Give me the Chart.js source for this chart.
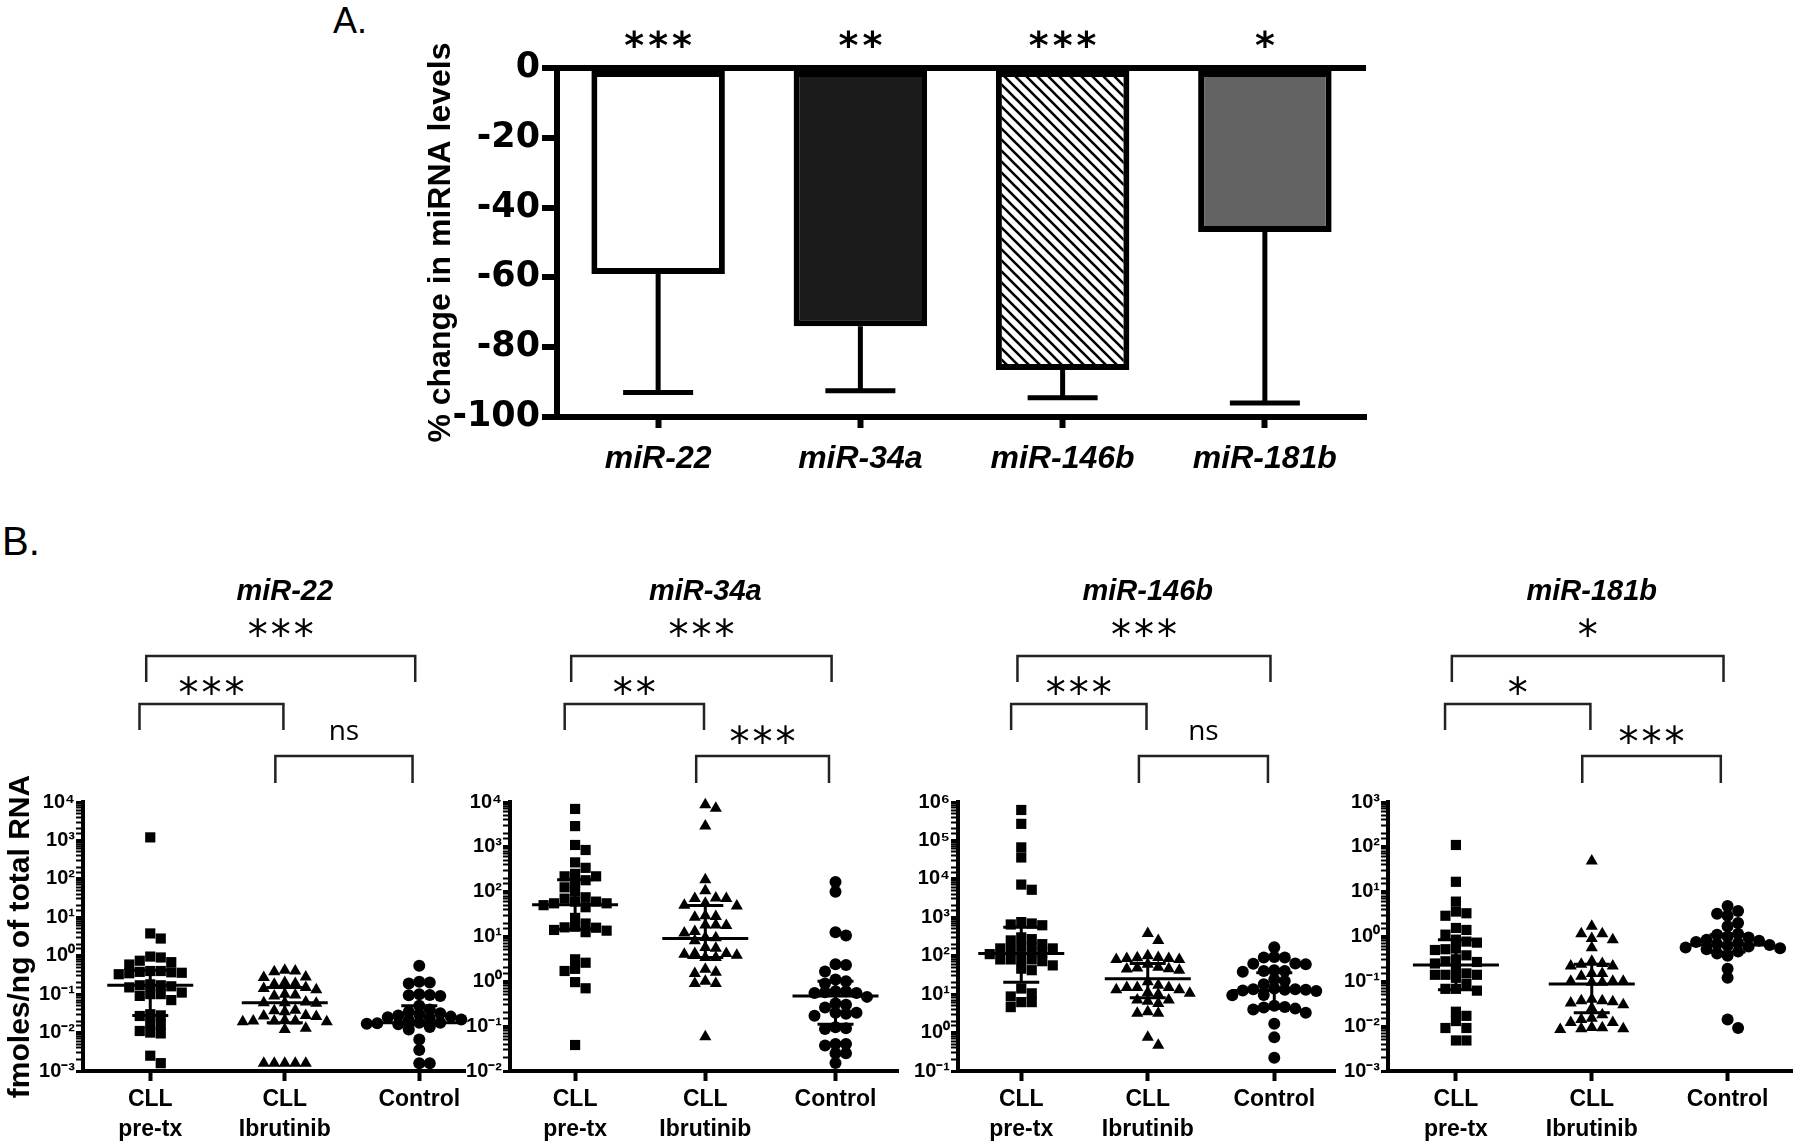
<!DOCTYPE html>
<html><head><meta charset="utf-8">
<script src="https://cdn.jsdelivr.net/npm/chart.js@4.4.1/dist/chart.umd.min.js"></script>
<style>
html,body{margin:0;padding:0;background:#fff;width:1800px;height:1144px;overflow:hidden;}
body{position:relative;font-family:"Liberation Sans",Arial,sans-serif;}
canvas{position:absolute;}
.lbl{position:absolute;font-family:"Liberation Sans",Arial,sans-serif;color:#000;line-height:1;}
</style></head><body>
<div class="lbl" style="left:333px;top:3px;font-size:36px">A.</div>
<div class="lbl" style="left:2px;top:521px;font-size:40px">B.</div>
<canvas id="cA" width="1000" height="480" style="left:400px;top:0px"></canvas>
<canvas id="c0" width="480" height="584" style="left:0px;top:560px"></canvas>
<canvas id="c1" width="480" height="584" style="left:430px;top:560px"></canvas>
<canvas id="c2" width="470" height="584" style="left:878px;top:560px"></canvas>
<canvas id="c3" width="492" height="584" style="left:1308px;top:560px"></canvas>
<script>
// ---------------- Panel A data ----------------
const barCategories = ['miR-22', 'miR-34a', 'miR-146b', 'miR-181b'];
const barChange = [-59, -74, -86.5, -47];
const barErrorLow = [-93, -92.5, -94.5, -96];
const barStars = ['***', '**', '***', '*'];
const barTicks = [0, -20, -40, -60, -80, -100];

// ---------------- Panel B data ----------------
const groupLabels = [['CLL', 'pre-tx'], ['CLL', 'Ibrutinib'], 'Control'];
const panelTitles = ['miR-22', 'miR-34a', 'miR-146b', 'miR-181b'];
const yAxisMin = [1e-3, 1e-2, 1e-1, 1e-3];
const yAxisMax = [1e4, 1e4, 1e6, 1e3];

const mir22PreTx = [1200, 3.8, 2.8, 0.9, 0.74, 0.59, 0.68, 0.95, 0.4, 0.37, 0.35, 0.38, 0.33, 0.36, 0.4, 0.17, 0.16, 0.18, 0.15, 0.17, 0.1, 0.09, 0.1, 0.11, 0.07, 0.028, 0.027, 0.03, 0.016, 0.017, 0.01, 0.0095, 0.011, 0.0025, 0.0016];
const mir22Ibrutinib = [0.4, 0.38, 0.42, 0.27, 0.28, 0.19, 0.2, 0.18, 0.14, 0.13, 0.15, 0.095, 0.1, 0.09, 0.06, 0.062, 0.058, 0.06, 0.037, 0.035, 0.038, 0.027, 0.026, 0.028, 0.02, 0.019, 0.021, 0.02, 0.019, 0.02, 0.012, 0.013, 0.0016, 0.0016, 0.0016, 0.0016, 0.0016];
const mir22Control = [0.55, 0.2, 0.19, 0.21, 0.093, 0.09, 0.095, 0.1, 0.04, 0.05, 0.035, 0.032, 0.03, 0.028, 0.026, 0.025, 0.024, 0.022, 0.021, 0.018, 0.0175, 0.017, 0.0175, 0.018, 0.0165, 0.014, 0.012, 0.0066, 0.0035, 0.0016, 0.0016];
const mir22Median = [0.17, 0.06, 0.018];
const mir22Q1 = [0.028, 0.018, 0.016];
const mir22Q3 = [0.42, 0.15, 0.05];
const mir22Sig = ['***', '***', 'ns'];

const mir34aPreTx = [7000, 2900, 1100, 850, 450, 340, 220, 220, 180, 250, 160, 125, 100, 75, 60, 55, 70, 60, 55, 50, 45, 26, 19.5, 16.5, 15.7, 13.5, 12.5, 14, 16, 2.6, 3.1, 1.7, 1.9, 0.96, 0.7, 0.038];
const mir34aIbrutinib = [7300, 8700, 2900, 185, 105, 70, 55, 70, 72, 50, 48, 29, 27, 28, 17.5, 18, 18, 12, 9.4, 13, 9.5, 8, 5.7, 5.5, 4, 3.8, 4.2, 3.4, 3.4, 4.2, 1.85, 1.5, 1.6, 0.9, 0.9, 1.0, 0.058];
const mir34aControl = [165, 100, 10.5, 12.5, 2.3, 1.65, 2.4, 1.1, 1.0, 0.9, 0.6, 0.57, 0.55, 0.6, 0.55, 0.45, 0.3, 0.32, 0.17, 0.19, 0.2, 0.2, 0.26, 0.09, 0.086, 0.095, 0.04, 0.037, 0.04, 0.025, 0.025, 0.015];
const mir34aMedian = [51, 9, 0.47];
const mir34aQ1 = [14.5, 3.4, 0.11];
const mir34aQ3 = [185, 49, 1.0];
const mir34aSig = ['***', '**', '***'];

const mir146bPreTx = [620000, 270000, 66000, 36000, 7100, 5200, 690, 620, 750, 650, 300, 270, 250, 200, 155, 140, 160, 170, 155, 120, 110, 80, 80, 72, 80, 80, 56, 42, 46, 14, 10.5, 8.7, 6.2, 6.2, 4.6];
const mir146bIbrutinib = [380, 250, 100, 80, 80, 85, 90, 85, 88, 60, 45, 42, 50, 46, 48, 21, 15, 13, 17, 15, 13, 15, 10.5, 11, 10, 6.5, 7, 7, 5.7, 3.2, 3.2, 3.5, 0.75, 0.47];
const mir146bControl = [165, 92, 90, 63, 60, 62, 90, 40, 38, 40, 42, 24, 22, 18, 13.5, 13, 13.5, 14, 13, 12, 12.5, 9.3, 9.5, 4.6, 3.3, 4, 5, 4.2, 4.5, 1.7, 0.75, 0.22];
const mir146bMedian = [115, 25, 12.5];
const mir146bQ1 = [20.5, 8, 4.3];
const mir146bQ3 = [550, 63, 36];
const mir146bSig = ['***', '***', 'ns'];

const mir181bPreTx = [110, 16.6, 6, 3.6, 2.9, 3.3, 1.55, 1.4, 1.1, 0.77, 0.85, 0.73, 0.54, 0.5, 0.52, 0.38, 0.31, 0.25, 0.28, 0.27, 0.19, 0.14, 0.12, 0.15, 0.14, 0.14, 0.087, 0.068, 0.062, 0.068, 0.017, 0.021, 0.0091, 0.013, 0.0091, 0.0048, 0.0048];
const mir181bIbrutinib = [48, 1.7, 1.15, 1.15, 0.9, 0.85, 0.56, 0.24, 0.22, 0.28, 0.25, 0.22, 0.15, 0.13, 0.15, 0.1, 0.1, 0.1, 0.095, 0.095, 0.037, 0.033, 0.04, 0.03, 0.037, 0.035, 0.025, 0.018, 0.015, 0.012, 0.0093, 0.0088, 0.0084, 0.0088, 0.0092, 0.012, 0.014];
const mir181bControl = [4.8, 3.2, 2.9, 3.7, 1.7, 2.0, 1.15, 1.0, 1.1, 0.95, 0.85, 0.8, 0.75, 0.72, 0.68, 0.65, 0.62, 0.6, 0.57, 0.55, 0.52, 0.46, 0.42, 0.37, 0.19, 0.12, 0.014, 0.0091];
const mir181bMedian = [0.23, 0.087, 0.65];
const mir181bQ1 = [0.065, 0.02, 0.45];
const mir181bQ3 = [0.85, 0.24, 1.1];
const mir181bSig = ['*', '*', '***'];

// ---------------- rendering ----------------
const FONT = "'Liberation Sans', Arial, Helvetica, sans-serif";
const WIDE = "'DejaVu Sans', Verdana, sans-serif";
Chart.defaults.font.family = FONT;
Chart.defaults.color = '#000';

function hatchPattern() {
  const s = 11, c = document.createElement('canvas');
  c.width = s; c.height = s;
  const x = c.getContext('2d');
  x.fillStyle = '#fff'; x.fillRect(0, 0, s, s);
  x.strokeStyle = '#000'; x.lineWidth = 2.6;
  x.beginPath();
  x.moveTo(-2, -2); x.lineTo(s + 2, s + 2);
  x.moveTo(-2, s - 2); x.lineTo(2, s + 2);
  x.moveTo(s - 2, -2); x.lineTo(s + 2, 2);
  x.stroke();
  return x.createPattern(c, 'repeat');
}

function drawSig(ctx, text, cx, cy, bold) {
  ctx.save();
  ctx.fillStyle = '#000';
  ctx.textAlign = 'center';
  ctx.textBaseline = 'alphabetic';
  if (text === 'ns') {
    ctx.font = `normal 28px 'Open Sans', ${FONT}`;
    ctx.fillText(text, cx, cy + 7);
  } else {
    const size = bold ? 38 : 40;
    const sp = bold ? 4 : 3;
    ctx.font = `${bold ? 'bold' : 'normal'} ${size}px ${WIDE}`;
    ctx.letterSpacing = sp + 'px';
    ctx.fillText(text, cx + sp / 2, cy + 0.58 * size);
  }
  ctx.restore();
}

// Panel A
const panelAPlugin = {
  id: 'panelA',
  afterDatasetsDraw(chart) {
    const ctx = chart.ctx, ys = chart.scales.y;
    const meta = chart.getDatasetMeta(0);
    ctx.save();
    ctx.strokeStyle = '#000';
    ctx.lineWidth = 5;
    meta.data.forEach((bar, i) => {
      const yEnd = bar.y, yErr = ys.getPixelForValue(barErrorLow[i]);
      ctx.beginPath();
      ctx.moveTo(bar.x, yEnd); ctx.lineTo(bar.x, yErr);
      ctx.moveTo(bar.x - 35, yErr); ctx.lineTo(bar.x + 35, yErr);
      ctx.stroke();
      drawSig(ctx, barStars[i], bar.x, 36, true);
    });
    ctx.restore();
  }
};

new Chart(document.getElementById('cA'), {
  type: 'bar',
  data: {
    labels: barCategories,
    datasets: [{
      data: barChange,
      backgroundColor: ['#ffffff', '#1b1b1b', hatchPattern(), '#636363'],
      borderColor: '#000', borderWidth: 6, borderSkipped: false,
      barPercentage: 0.66, categoryPercentage: 1
    }]
  },
  options: {
    responsive: false, animation: false, devicePixelRatio: 1, events: [],
    layout: { padding: { top: 68, right: 34, left: 0, bottom: 0 } },
    plugins: { legend: { display: false }, tooltip: { enabled: false } },
    scales: {
      x: {
        offset: true,
        afterFit: s => { s.height = 63; },
        grid: { display: true, offset: false, drawOnChartArea: false, tickLength: 11, tickWidth: 6, tickColor: '#000' },
        border: { display: true, color: '#000', width: 6 },
        ticks: { color: '#000', padding: 12, font: { size: 32, weight: 'bold', style: 'italic' } }
      },
      y: {
        min: -100, max: 0,
        afterFit: s => { s.width = 157; },
        afterBuildTicks: s => { s.ticks = barTicks.map(v => ({ value: v })); },
        grid: {
          display: true, drawOnChartArea: true,
          color: c => (c.tick && c.tick.value === 0) ? '#000' : 'rgba(0,0,0,0)',
          lineWidth: 6, tickLength: 15, tickWidth: 6, tickColor: '#000'
        },
        border: { display: true, color: '#000', width: 6 },
        ticks: { color: '#000', padding: 2, font: { family: WIDE, size: 35, weight: 'bold' } },
        title: { display: true, text: '% change in miRNA levels', color: '#000', font: { size: 32, weight: 'bold' }, padding: { top: 22, bottom: 0 } }
      }
    }
  },
  plugins: [panelAPlugin]
});

// Panel B
const SUP = { '-': '⁻', '0': '⁰', '1': '¹', '2': '²', '3': '³', '4': '⁴', '5': '⁵', '6': '⁶', '7': '⁷', '8': '⁸', '9': '⁹' };
function isPow10(v) { const e = Math.log10(v); return Math.abs(e - Math.round(e)) < 1e-6; }
function powLabel(v) {
  if (!isPow10(v)) return '';
  const r = Math.round(Math.log10(v));
  return '10' + String(r).split('').map(ch => SUP[ch]).join('');
}

const panels = [
  { id: 'c0', title: panelTitles[0], groups: [mir22PreTx, mir22Ibrutinib, mir22Control], med: mir22Median, q1: mir22Q1, q3: mir22Q3, sig: mir22Sig, min: yAxisMin[0], max: yAxisMax[0] },
  { id: 'c1', title: panelTitles[1], groups: [mir34aPreTx, mir34aIbrutinib, mir34aControl], med: mir34aMedian, q1: mir34aQ1, q3: mir34aQ3, sig: mir34aSig, min: yAxisMin[1], max: yAxisMax[1] },
  { id: 'c2', title: panelTitles[2], groups: [mir146bPreTx, mir146bIbrutinib, mir146bControl], med: mir146bMedian, q1: mir146bQ1, q3: mir146bQ3, sig: mir146bSig, min: yAxisMin[2], max: yAxisMax[2] },
  { id: 'c3', title: panelTitles[3], groups: [mir181bPreTx, mir181bIbrutinib, mir181bControl], med: mir181bMedian, q1: mir181bQ1, q3: mir181bQ3, sig: mir181bSig, min: yAxisMin[3], max: yAxisMax[3] }
];
const boxes = [
  { axisW: 83, padR: 15, xMax: 2.34, yTitle: true },
  { axisW: 80, padR: 12, xMax: 2.48 },
  { axisW: 80, padR: 13, xMax: 2.48 },
  { axisW: 80, padR: 5, xMax: 2.48 }
];
// bracket layout: [groupA, groupB, offsetA, offsetB, line y above chart top, leg length, label y above chart top]
const bracketLayout = [
  [0, 2, -0.03, -0.03, 146, 26, 176],
  [0, 1, -0.08, -0.01, 98, 26, 118],
  [1, 2, -0.07, -0.05, 46, 27, 69]
];

function makeAnnotPlugin(p) {
  return {
    id: 'annot',
    afterDatasetsDraw(chart) {
      const ctx = chart.ctx, xs = chart.scales.x, ys = chart.scales.y;
      ctx.save();
      ctx.strokeStyle = '#000'; ctx.lineWidth = 3; ctx.lineCap = 'butt';
      for (let g = 0; g < 3; g++) {
        const cx = xs.getPixelForValue(g);
        const ym = ys.getPixelForValue(p.med[g]);
        const y1 = ys.getPixelForValue(p.q1[g]);
        const y3 = ys.getPixelForValue(p.q3[g]);
        ctx.beginPath();
        ctx.moveTo(cx - 43, ym); ctx.lineTo(cx + 43, ym);
        ctx.moveTo(cx - 18, y1); ctx.lineTo(cx + 18, y1);
        ctx.moveTo(cx - 18, y3); ctx.lineTo(cx + 18, y3);
        ctx.moveTo(cx, y1); ctx.lineTo(cx, y3);
        ctx.stroke();
      }
      ctx.restore();
    },
    afterDraw(chart) {
      const ctx = chart.ctx, xs = chart.scales.x, top = chart.chartArea.top;
      ctx.save();
      const tcx = (xs.getPixelForValue(0) + xs.getPixelForValue(2)) / 2;
      ctx.font = `italic bold 29px ${FONT}`;
      ctx.fillStyle = '#000'; ctx.textAlign = 'center'; ctx.textBaseline = 'middle';
      ctx.fillText(p.title, tcx, top - 210);
      ctx.strokeStyle = '#222'; ctx.lineWidth = 2.5;
      bracketLayout.forEach((b, k) => {
        const xa = xs.getPixelForValue(b[0] + b[2]);
        const xb = xs.getPixelForValue(b[1] + b[3]);
        const yl = top - b[4];
        ctx.beginPath();
        ctx.moveTo(xa, yl + b[5]); ctx.lineTo(xa, yl); ctx.lineTo(xb, yl); ctx.lineTo(xb, yl + b[5]);
        ctx.stroke();
        drawSig(ctx, p.sig[k], (xa + xb) / 2, top - b[6], false);
      });
      ctx.restore();
    }
  };
}

// spread each column's points sideways (beeswarm) so that markers do not overlap
function swarm(chart, gap, vgap) {
  const xs = chart.scales.x, ys = chart.scales.y;
  chart.data.datasets.forEach((ds, g) => {
    const cx = xs.getPixelForValue(g);
    const pts = ds.data.map(d => ({ v: d.y, py: ys.getPixelForValue(d.y), px: cx }));
    const order = pts.map((_, i) => i).sort((a, b) => pts[a].py - pts[b].py);
    const placed = [];
    order.forEach(i => {
      const p = pts[i];
      for (let k = 0; k < 80; k++) {
        const step = k === 0 ? 0 : (k % 2 ? 1 : -1) * Math.ceil(k / 2);
        const px = cx + step * gap;
        const ok = placed.every(q => Math.abs(q.px - px) >= gap - 0.01 || Math.abs(q.py - p.py) >= vgap);
        if (ok) { p.px = px; placed.push(p); break; }
      }
    });
    ds.data = pts.map(p => ({ x: xs.getValueForPixel(p.px), y: p.v }));
  });
  chart.update('none');
}

const shapes = ['rect', 'triangle', 'circle'];
const radii = [7.2, 7, 6];

panels.forEach((p, idx) => {
  const box = boxes[idx];
  const chart = new Chart(document.getElementById(p.id), {
    type: 'scatter',
    data: {
      datasets: p.groups.map((vals, g) => ({
        data: vals.map(v => ({ x: g, y: v })),
        pointStyle: shapes[g], pointRadius: radii[g], pointHoverRadius: radii[g],
        backgroundColor: '#000', borderColor: '#000', borderWidth: 0
      }))
    },
    options: {
      responsive: false, animation: false, devicePixelRatio: 1, events: [],
      clip: false,
      layout: { padding: { top: 242, right: box.padR, left: 0, bottom: 0 } },
      plugins: { legend: { display: false }, tooltip: { enabled: false } },
      scales: {
        x: {
          type: 'linear', min: -0.5, max: box.xMax,
          afterBuildTicks: s => { s.ticks = [0, 1, 2].map(v => ({ value: v })); },
          afterFit: s => { s.height = 73; },
          grid: { display: true, drawOnChartArea: false, tickLength: 10, tickWidth: 4, tickColor: '#000' },
          border: { display: true, color: '#000', width: 4 },
          ticks: { callback: v => groupLabels[v], color: '#000', padding: 4, autoSkip: false, maxRotation: 0, font: { size: 23, weight: 'bold', lineHeight: 1.3 } }
        },
        y: {
          type: 'logarithmic', min: p.min, max: p.max,
          afterFit: s => { s.width = box.axisW; },
          grid: {
            display: true, drawOnChartArea: false, tickLength: 7,
            tickWidth: c => (c.tick && isPow10(c.tick.value)) ? 3 : 2, tickColor: '#000'
          },
          border: { display: true, color: '#000', width: 4 },
          ticks: { callback: v => powLabel(v), autoSkip: false, color: '#000', padding: 1, font: { size: 20, weight: 'bold' } },
          title: { display: !!box.yTitle, text: 'fmoles/ng of total RNA', color: '#000', font: { size: 30, weight: 'bold' }, padding: { top: 3, bottom: 0 } }
        }
      }
    },
    plugins: [makeAnnotPlugin(p)]
  });
  swarm(chart, 10.5, 8.5);
});
</script>
</body></html>
